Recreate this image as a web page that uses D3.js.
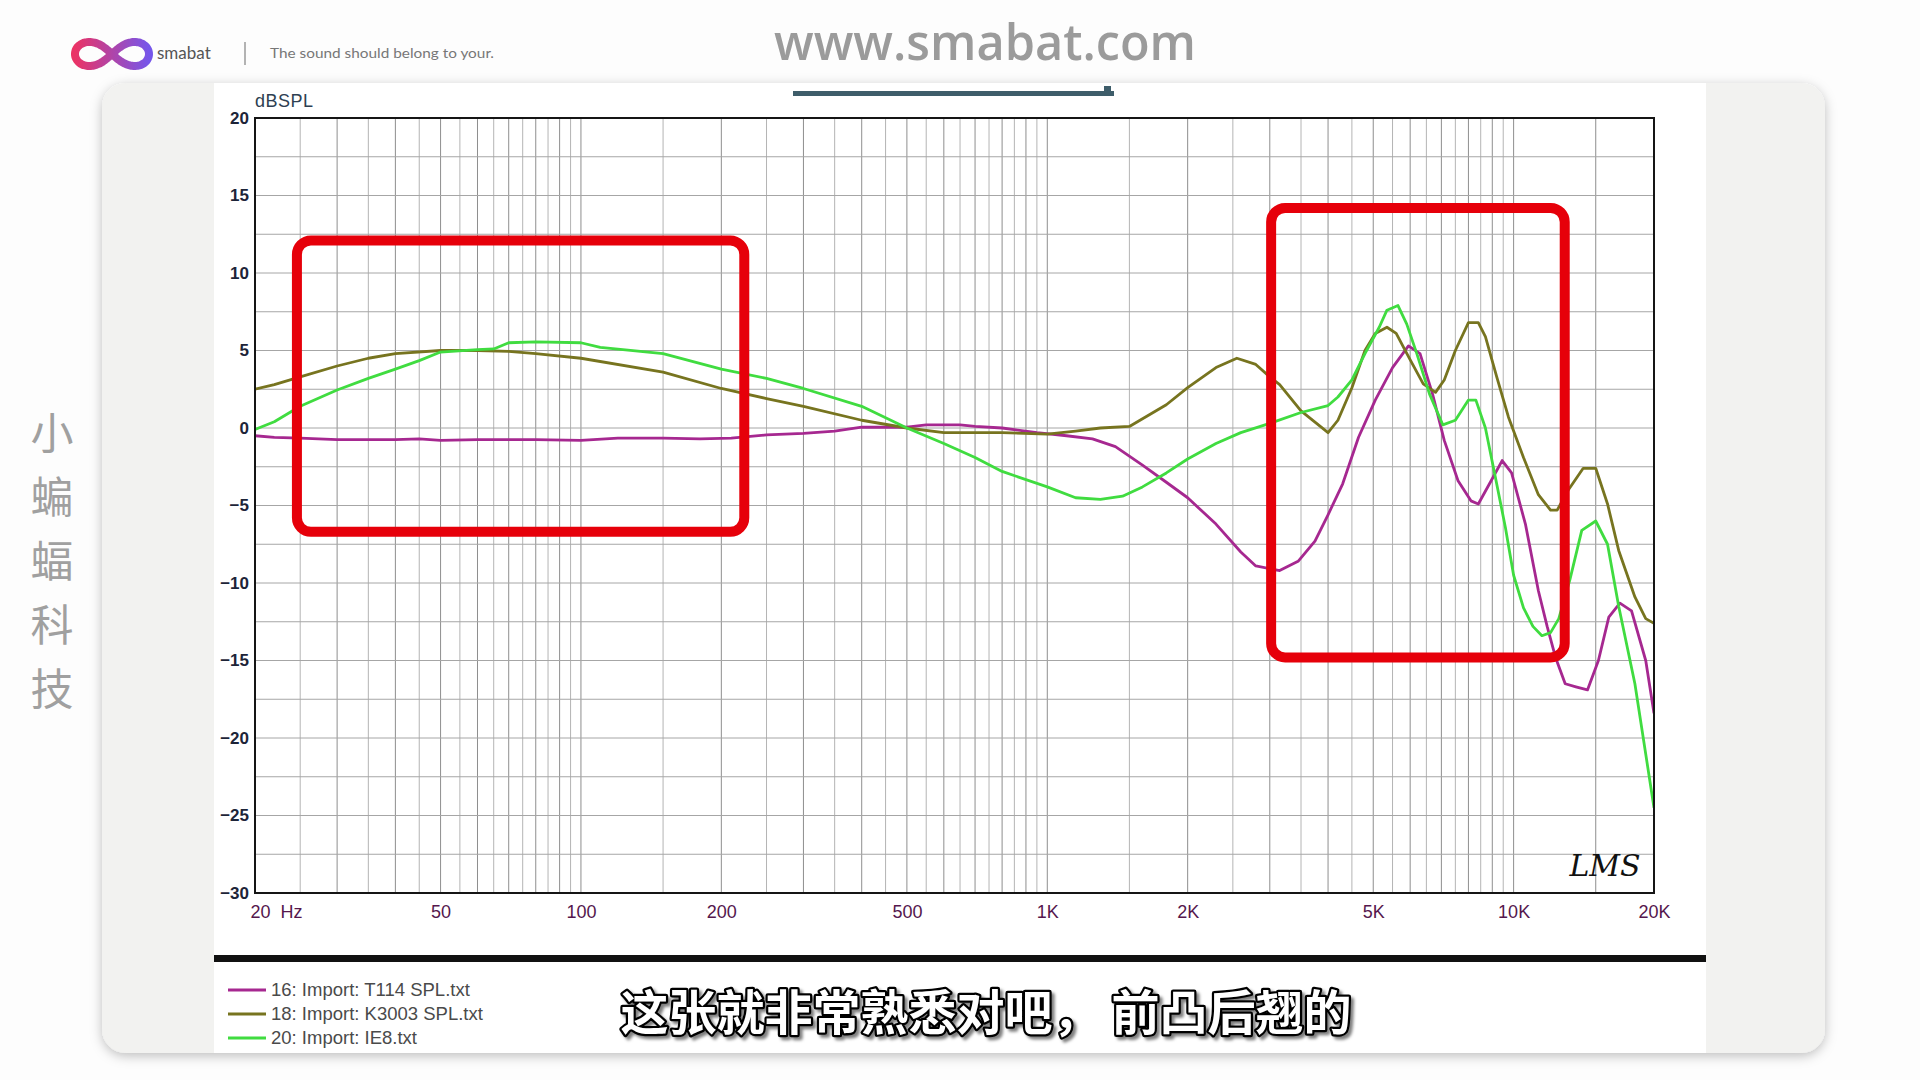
<!DOCTYPE html>
<html>
<head>
<meta charset="UTF-8">
<title>smabat - frequency response</title>
<script src="https://d3js.org/d3.v7.min.js"></script>
<style>
    body { margin: 0; background: #fdfdfd; }
    svg { display: block; }
</style>
</head>
<body>
<div id="chart"></div>
<script>
// frequency response points [Hz, dBSPL]
const t114 = [[20,-0.5],[22,-0.6],[25,-0.65],[30,-0.75],[40,-0.75],[45,-0.7],[50,-0.8],[60,-0.75],[80,-0.75],[100,-0.8],
    [120,-0.65],[150,-0.65],[180,-0.7],[210,-0.65],[250,-0.45],[300,-0.35],[350,-0.2],[400,0.05],[500,0.05],[550,0.2],
    [650,0.2],[700,0.1],[800,0],[950,-0.3],[1100,-0.5],[1250,-0.7],[1400,-1.2],[1600,-2.4],[1800,-3.5],[2000,-4.5],
    [2300,-6.2],[2600,-8.0],[2800,-8.9],[3150,-9.2],[3450,-8.6],[3750,-7.3],[4000,-5.6],[4300,-3.6],[4650,-0.6],
    [5050,1.8],[5500,3.9],[5950,5.3],[6300,4.8],[6700,2.2],[7100,-0.8],[7600,-3.4],[8100,-4.7],[8400,-4.9],[8950,-3.4],
    [9450,-2.1],[9900,-2.9],[10600,-6.2],[11300,-10.5],[11800,-12.8],[12300,-14.8],[12900,-16.5],[13600,-16.7],
    [14400,-16.9],[15200,-15],[16000,-12.2],[16900,-11.3],[17900,-11.8],[19200,-15],[20000,-18.4]];

const k3003 = [[20,2.5],[22,2.8],[25,3.3],[30,4.0],[35,4.5],[40,4.8],[50,5.0],[60,5.0],[70,4.95],[80,4.8],[100,4.5],
    [150,3.6],[200,2.55],[250,1.9],[300,1.4],[400,0.5],[500,0],[600,-0.3],[800,-0.3],[1000,-0.4],[1150,-0.2],[1300,0],
    [1500,0.1],[1800,1.5],[2000,2.6],[2300,3.9],[2550,4.5],[2800,4.1],[3000,3.3],[3150,2.8],[3500,1.1],[4000,-0.3],
    [4200,0.5],[4500,2.6],[4800,5.0],[5050,6.1],[5350,6.5],[5600,6.1],[5950,4.6],[6400,2.85],[6800,2.3],[7100,3.1],
    [7500,5.0],[8000,6.8],[8400,6.8],[8700,5.9],[9200,3.3],[9750,0.7],[10500,-1.9],[11300,-4.3],[12000,-5.3],
    [12400,-5.3],[13100,-4.0],[14100,-2.6],[15000,-2.6],[15900,-4.9],[16800,-7.9],[18200,-10.9],[19200,-12.3],[20000,-12.6]];

const ie8 = [[20,-0.1],[22,0.4],[25,1.4],[30,2.45],[35,3.2],[40,3.8],[45,4.35],[50,4.9],[60,5.05],[65,5.1],[70,5.5],
    [80,5.55],[100,5.5],[110,5.2],[150,4.8],[200,3.8],[250,3.2],[300,2.55],[400,1.4],[500,0],[600,-1.0],[700,-1.9],
    [800,-2.8],[1000,-3.8],[1150,-4.5],[1300,-4.6],[1450,-4.4],[1600,-3.8],[1800,-2.9],[2000,-2.0],[2300,-1.0],
    [2600,-0.3],[3000,0.3],[3500,1.0],[4000,1.45],[4200,2.0],[4500,3.1],[4800,4.8],[5150,6.5],[5350,7.6],[5650,7.9],
    [5900,6.7],[6200,4.8],[6600,2.2],[7050,0.2],[7500,0.5],[8000,1.8],[8300,1.8],[8700,0.0],[9100,-2.9],[9600,-6.4],
    [10000,-9.5],[10500,-11.6],[11000,-12.8],[11500,-13.4],[12000,-13.2],[12500,-12.3],[13200,-9.8],[14000,-6.6],
    [15000,-6.0],[15900,-7.5],[16800,-11.5],[18200,-16.5],[20000,-24.5]];

const seriesNames = ["16: Import: T114 SPL.txt", "18: Import: K3003 SPL.txt", "20: Import: IE8.txt"];
const seriesColors = ["#a62890", "#77741f", "#40dc40"];

const yTicks = [20, 15, 10, 5, 0, -5, -10, -15, -20, -25, -30];
const xTicks = [20, 50, 100, 200, 500, 1000, 2000, 5000, 10000, 20000];
const xTickLabels = ["20\u00a0\u00a0Hz", "50", "100", "200", "500", "1K", "2K", "5K", "10K", "20K"];

// red highlight boxes: [fLow, fHigh, dbLow, dbHigh]
const boxes = [[24.6, 224, -6.7, 12.1], [3020, 12870, -14.8, 14.2]];

const W = 1920, H = 1080;
const plot = { left: 255, right: 1654, top: 118, bottom: 893 };

let svg = d3.select("#chart").append("svg")
    .attr("width", W).attr("height", H);

let defs = svg.append("defs");
defs.append("filter").attr("id", "cardShadow")
    .attr("x", "-5%").attr("y", "-5%").attr("width", "110%").attr("height", "110%")
    .append("feDropShadow")
    .attr("dx", 0).attr("dy", 3).attr("stdDeviation", 6)
    .attr("flood-color", "#000").attr("flood-opacity", 0.25);
defs.append("filter").attr("id", "subShadow")
    .append("feDropShadow")
    .attr("dx", 3).attr("dy", 3).attr("stdDeviation", 1.5)
    .attr("flood-color", "#000").attr("flood-opacity", 0.5);
let grad = defs.append("linearGradient").attr("id", "logoGrad")
    .attr("x1", "0%").attr("x2", "100%");
grad.append("stop").attr("offset", "0%").attr("stop-color", "#ea3366");
grad.append("stop").attr("offset", "100%").attr("stop-color", "#7656ea");
defs.append("clipPath").attr("id", "plotClip")
    .append("rect")
    .attr("x", plot.left).attr("y", plot.top)
    .attr("width", plot.right - plot.left).attr("height", plot.bottom - plot.top);

// ---- page header ----
let logoPts = d3.range(0, 2 * Math.PI + 0.05, 0.05).map(function (t) {
    let s = Math.sin(t), c = Math.cos(t), k = 1 + s * s;
    return [112 + 37 * c / k, 54 + 34 * s * c / k];
});
svg.append("path")
    .attr("d", d3.line().curve(d3.curveCardinal)(logoPts))
    .attr("fill", "none")
    .attr("stroke", "url(#logoGrad)")
    .attr("stroke-width", 8);

svg.append("text").attr("x", 157).attr("y", 59)
    .style("font-family", "Lato, 'Open Sans', sans-serif").style("font-size", "17px")
    .style("fill", "#555").text("smabat");
svg.append("line").attr("x1", 245).attr("x2", 245).attr("y1", 42).attr("y2", 65)
    .attr("stroke", "#9a9a9a").attr("stroke-width", 1.5);
svg.append("text").attr("x", 270).attr("y", 58)
    .attr("textLength", 224).attr("lengthAdjust", "spacingAndGlyphs")
    .style("font-family", "Lato, 'Open Sans', sans-serif").style("font-size", "14px")
    .style("fill", "#777").text("The sound should belong to your.");

svg.append("text").attr("x", 985).attr("y", 60)
    .attr("text-anchor", "middle")
    .attr("textLength", 422).attr("lengthAdjust", "spacingAndGlyphs")
    .style("font-family", "'Open Sans', sans-serif").style("font-weight", 600)
    .style("font-size", "50px").style("fill", "#9b9b9b")
    .text("www.smabat.com");

// vertical side caption
let side = "小蝙蝠科技".split("");
svg.selectAll(".sideChar").data(side).enter().append("text")
    .attr("class", "sideChar")
    .attr("x", 52).attr("y", (d, i) => 430 + i * 64)
    .attr("text-anchor", "middle").attr("dominant-baseline", "central")
    .style("font-family", "'Noto Sans CJK SC', sans-serif").style("font-weight", 400)
    .style("font-size", "43px").style("fill", "#a0a0a0")
    .text(d => d);

// ---- card ----
svg.append("rect").attr("x", 102).attr("y", 83).attr("width", 1723).attr("height", 970)
    .attr("rx", 24).attr("fill", "#f2f2f0").attr("filter", "url(#cardShadow)");
svg.append("rect").attr("x", 214).attr("y", 83).attr("width", 1492).attr("height", 970)
    .attr("fill", "#ffffff");

// slider-like bar under the site name
svg.append("rect").attr("x", 793).attr("y", 91).attr("width", 321).attr("height", 5).attr("fill", "#3e5d6a");
svg.append("rect").attr("x", 1104).attr("y", 86).attr("width", 7).attr("height", 8).attr("fill", "#3e5d6a");

// ---- chart ----
let x = d3.scaleLog().domain([20, 20000]).range([plot.left, plot.right]);
let y = d3.scaleLinear().domain([-30, 20]).range([plot.bottom, plot.top]);

// grid frequencies: 5 Hz steps to 100, 50 Hz to 1K, 500 Hz to 10K, then 15K
let gridF = [];
[[20, 100, 5], [100, 1000, 50], [1000, 10000, 500], [10000, 20000, 5000]].forEach(function (r) {
    for (let f = r[0]; f < r[1]; f += r[2]) gridF.push(f);
});
let isMajor = f => (f < 100 ? f % 10 === 0 : f < 1000 ? f % 100 === 0 : f < 10000 ? f % 1000 === 0 : true);

let grid = svg.append("g");
grid.selectAll(".vgrid").data(gridF.filter(f => f > 20)).enter().append("line")
    .attr("x1", d => x(d)).attr("x2", d => x(d))
    .attr("y1", plot.top).attr("y2", plot.bottom)
    .attr("stroke", d => isMajor(d) ? "#8e8e8e" : "#b4b4b4")
    .attr("stroke-width", 1);
grid.selectAll(".hgrid").data(d3.range(-27.5, 20, 2.5)).enter().append("line")
    .attr("x1", plot.left).attr("x2", plot.right)
    .attr("y1", d => y(d)).attr("y2", d => y(d))
    .attr("stroke", "#a6a6a6").attr("stroke-width", 1);

// curves
let line = d3.line().x(d => x(d[0])).y(d => y(d[1])).curve(d3.curveLinear);
svg.append("g").attr("clip-path", "url(#plotClip)")
    .selectAll("path").data([t114, k3003, ie8]).enter().append("path")
    .attr("d", line)
    .attr("fill", "none")
    .attr("stroke", (d, i) => seriesColors[i])
    .attr("stroke-width", 2.8)
    .attr("stroke-linejoin", "round");

// frame
svg.append("rect").attr("x", plot.left).attr("y", plot.top)
    .attr("width", plot.right - plot.left).attr("height", plot.bottom - plot.top)
    .attr("fill", "none").attr("stroke", "#151515").attr("stroke-width", 2);

// y axis
let yAxis = svg.append("g")
    .attr("transform", "translate(" + plot.left + ",0)")
    .call(d3.axisLeft(y).tickValues(yTicks).tickSize(0).tickPadding(6));
yAxis.select(".domain").remove();
yAxis.selectAll("text")
    .style("font-family", "'Liberation Sans', Arial, sans-serif")
    .style("font-weight", "bold").style("font-size", "17px").style("fill", "#1d2438");

svg.append("text").attr("x", 255).attr("y", 107)
    .style("font-family", "'Liberation Sans', Arial, sans-serif")
    .style("font-size", "18px").style("letter-spacing", "0.5px").style("fill", "#2e3f52")
    .text("dBSPL");

// x axis
let xAxis = svg.append("g")
    .attr("transform", "translate(0," + plot.bottom + ")")
    .call(d3.axisBottom(x).tickValues(xTicks).tickFormat((d, i) => xTickLabels[i]).tickSize(0).tickPadding(12));
xAxis.select(".domain").remove();
xAxis.selectAll("text")
    .style("font-family", "'Liberation Sans Narrow', 'Arial Narrow', 'Liberation Sans', sans-serif")
    .style("font-size", "18px").style("fill", "#55174d");
xAxis.selectAll(".tick").filter(d => d === 20).select("text")
    .attr("text-anchor", "start").attr("x", -5);

// LMS signature
svg.append("text").attr("x", 1605).attr("y", 876)
    .attr("text-anchor", "middle")
    .style("font-family", "'DejaVu Serif', serif").style("font-style", "italic")
    .style("font-size", "30px").style("fill", "#111")
    .text("LMS");

// red highlight boxes
svg.selectAll(".box").data(boxes).enter().append("rect")
    .attr("x", d => x(d[0])).attr("y", d => y(d[3]))
    .attr("width", d => x(d[1]) - x(d[0])).attr("height", d => y(d[2]) - y(d[3]))
    .attr("rx", 14)
    .attr("fill", "none").attr("stroke", "#e6000a").attr("stroke-width", 10);

// ---- legend ----
svg.append("rect").attr("x", 214).attr("y", 955).attr("width", 1492).attr("height", 7).attr("fill", "#111");
let legend = svg.append("g");
seriesNames.forEach(function (name, i) {
    let ly = 990 + i * 24;
    legend.append("line").attr("x1", 228).attr("x2", 266).attr("y1", ly).attr("y2", ly)
        .attr("stroke", seriesColors[i]).attr("stroke-width", 3);
    legend.append("text").attr("x", 271).attr("y", ly + 6)
        .style("font-family", "'Liberation Sans', Arial, sans-serif")
        .style("font-size", "18.5px").style("fill", "#4a4a4a")
        .text(name);
});

// subtitle
svg.append("text").attr("x", 986).attr("y", 1030)
    .attr("text-anchor", "middle")
    .attr("filter", "url(#subShadow)")
    .style("font-family", "'Noto Sans CJK SC', sans-serif").style("font-weight", 700)
    .style("font-size", "48px")
    .style("fill", "#ffffff").style("stroke", "#000").style("stroke-width", 4.5)
    .style("paint-order", "stroke").style("stroke-linejoin", "round")
    .text("这张就非常熟悉对吧，  前凸后翘的");
</script>
</body>
</html>
